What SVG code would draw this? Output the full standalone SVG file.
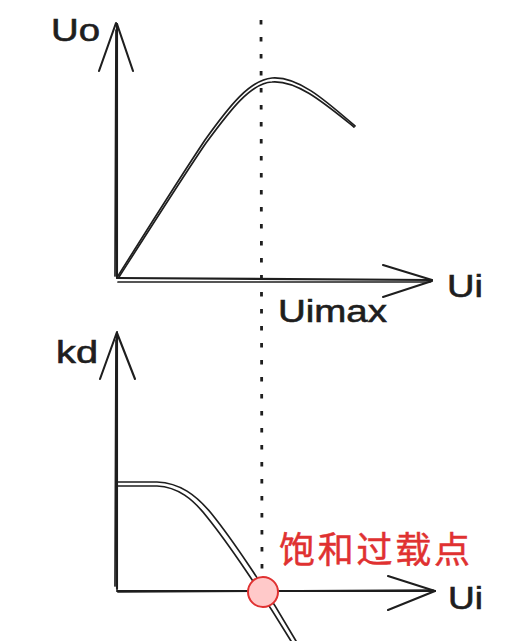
<svg xmlns="http://www.w3.org/2000/svg" width="526" height="641" viewBox="0 0 526 641">
<style>
.ln{fill:none;stroke:#1e1e1e;stroke-width:1.7;stroke-linecap:round;stroke-linejoin:round}
.ax{fill:none;stroke:#1e1e1e;stroke-width:2.1;stroke-linecap:round;stroke-linejoin:round}
.dot{fill:none;stroke:#1e1e1e;stroke-width:2.8;stroke-dasharray:4.5 12.5}
.lbl{font-family:"Comic Sans MS","Liberation Sans","DejaVu Sans",sans-serif;font-size:31px;fill:#1e1e1e;stroke:#1e1e1e;stroke-width:0.6}
.red{font-family:"Liberation Sans","Noto Sans CJK SC",sans-serif;font-size:36px;fill:#e03131;stroke:#e03131;stroke-width:0.5}
</style>
<rect width="526" height="641" fill="#ffffff"/>
<g id="connectors">
  <path class="dot" d="M261,20 L262,572"/>
  <g id="top-y-axis">
    <path class="ax" d="M117,278 L117,24"/>
    <path class="ln" d="M115,276 L116,30"/>
    <path class="ax" d="M116,23 L99,71"/>
    <path class="ax" d="M117,24 L133,71"/>
  </g>
  <g id="top-x-axis">
    <path class="ax" d="M117,278 L432,280"/>
    <path class="ln" d="M118,282 L430,282"/>
    <path class="ax" d="M383,265 L432,280"/>
    <path class="ax" d="M432,281 L383,297"/>
  </g>
  <g id="top-curve">
    <path class="ln" d="M118,276 C150,225 185,170 205,140 C230,105 250,80 272,78 C298,76 325,100 355,126"/>
    <path class="ln" d="M119,277 C151,227 186,172 206,143 C231,109 251,83 272,82 C297,80 324,103 354,127"/>
  </g>
  <g id="bottom-y-axis">
    <path class="ax" d="M117,589 L117,333"/>
    <path class="ln" d="M115,586 L116,340"/>
    <path class="ax" d="M117,332 L100,379"/>
    <path class="ax" d="M117,333 L135,379"/>
  </g>
  <g id="bottom-x-axis">
    <path class="ax" d="M117,591 L435,591"/>
    <path class="ln" d="M118,592 L433,590"/>
    <path class="ax" d="M388,576 L435,591"/>
    <path class="ax" d="M435,591 L388,610"/>
  </g>
  <g id="bottom-curve">
    <path class="ln" d="M118,482 L157,482 C180,483 196,495 211,513 C232,539 266,589 296,641"/>
    <path class="ln" d="M118,486 L157,486 C178,487 193,499 207,517 C228,543 262,593 291,641"/>
  </g>
</g>
<g id="label-uo"><text class="lbl" x="51" y="41" textLength="49" lengthAdjust="spacingAndGlyphs">Uo</text></g>
<g id="label-ui-top"><text class="lbl" x="447" y="297" textLength="36" lengthAdjust="spacingAndGlyphs">Ui</text></g>
<g id="label-uimax"><text class="lbl" x="278" y="322" textLength="109" lengthAdjust="spacingAndGlyphs">Uimax</text></g>
<g id="label-kd"><text class="lbl" x="56" y="363" textLength="42" lengthAdjust="spacingAndGlyphs">kd</text></g>
<g id="label-ui-bottom"><text class="lbl" x="448" y="609" textLength="35" lengthAdjust="spacingAndGlyphs">Ui</text></g>
<g id="saturation-point">
  <circle cx="263" cy="592" r="15" fill="#ffc9c9" stroke="#e03131" stroke-width="2"/>
</g>
<g id="label-saturation"><text class="red" x="279" y="563" textLength="191" lengthAdjust="spacing">饱和过载点</text></g>
</svg>
